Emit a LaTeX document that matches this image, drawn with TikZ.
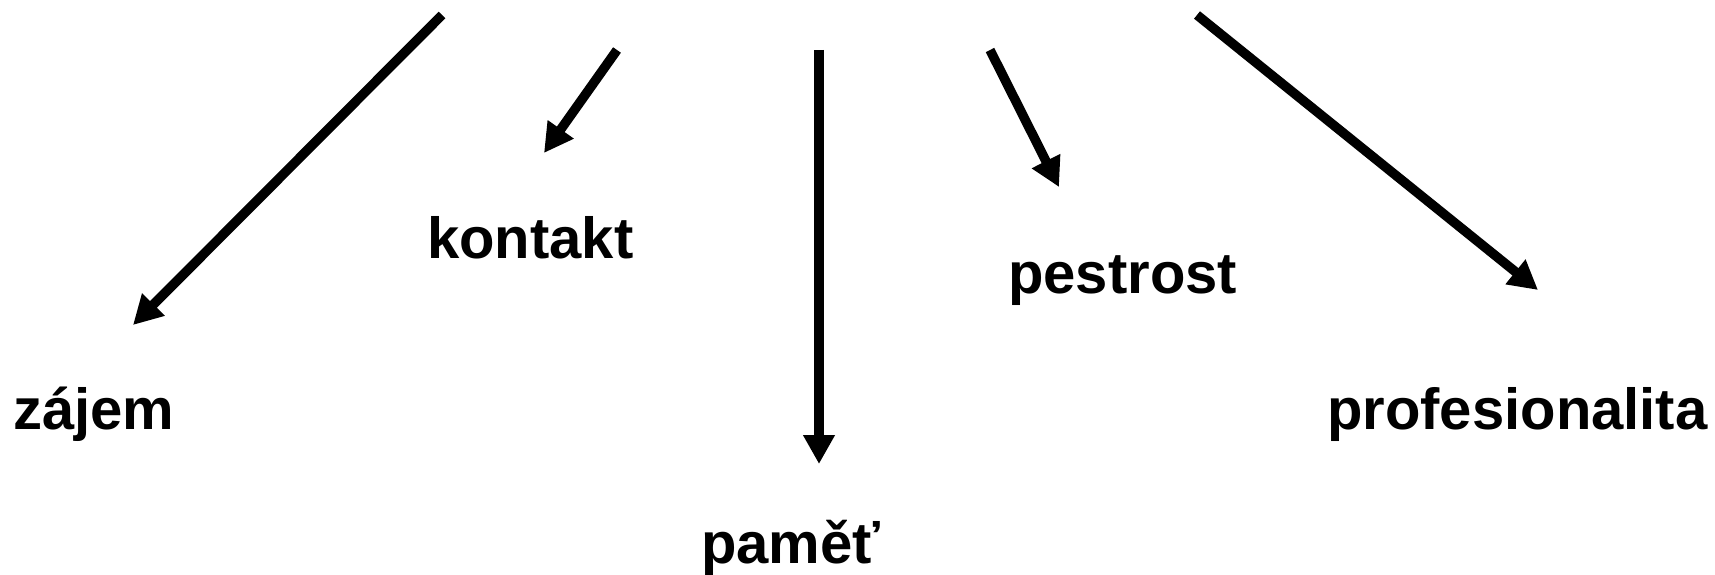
\documentclass[tikz,border=0pt]{standalone}
\usepackage{fontspec}
\setmainfont{Liberation Sans}
\usetikzlibrary{arrows.meta}
\begin{document}
\begin{tikzpicture}[x=1pt,y=-1pt,
  word/.style={font=\fontsize{58}{66}\selectfont\bfseries, inner sep=0pt, anchor=base west},
  arr/.style={line width=9.5pt, -{Triangle[length=29pt,width=30pt]}}]
\useasboundingbox[fill=white] (0,0) rectangle (1715,575);
\node[word] (zajem) at (13,429) {zájem};
\node[word] (kontakt) at (427,258) {kontakt};
\node[word] (pamet) at (701,563) {paměť};
\node[word] (pestrost) at (1008,293) {pestrost};
\node[word] (prof) at (1327,429) {profesionalita};
\coordinate (s1) at (442,15);
\coordinate (t1) at (133,325);
\coordinate (s2) at (617,50);
\coordinate (t2) at (544,153);
\coordinate (s3) at (819,50);
\coordinate (t3) at (819,464);
\coordinate (s4) at (990,50);
\coordinate (t4) at (1059,187);
\coordinate (s5) at (1197,15);
\coordinate (t5) at (1538,290);
\draw[arr] (s1) -- (t1);
\draw[arr] (s2) -- (t2);
\draw[arr] (s3) -- (t3);
\draw[arr] (s4) -- (t4);
\draw[arr] (s5) -- (t5);
\end{tikzpicture}
\end{document}
